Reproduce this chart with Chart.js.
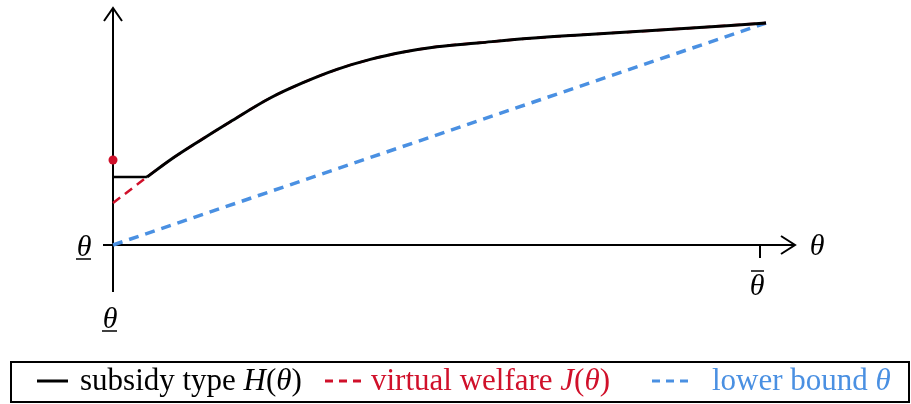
<!DOCTYPE html>
<html>
<head>
<meta charset="utf-8">
<script src="https://cdn.jsdelivr.net/npm/chart.js@4.4.0/dist/chart.umd.min.js"></script>
<style>
  html, body { margin: 0; padding: 0; background: #fff; }
  #wrap { width: 911px; height: 404px; position: relative; }
</style>
</head>
<body>
<div id="wrap"><canvas id="myChart" width="911" height="404"></canvas></div>
<script>
// type on the horizontal axis (theta_lower = 0, theta_upper = 1)
const curveX = [0.052, 0.087, 0.133, 0.179, 0.240, 0.291, 0.343, 0.394, 0.445, 0.496, 0.562, 0.639, 0.715, 0.838, 1.0];
const curveY = [0.306, 0.382, 0.470, 0.554, 0.661, 0.731, 0.791, 0.836, 0.869, 0.893, 0.911, 0.931, 0.946, 0.968, 1.0];

// H(theta) is flat until it meets J(theta)
const flatLevel = 0.306;
// J(theta) starts lower at theta_lower
const virtualStart = 0.189;
// value marked on the vertical axis
const dotValue = 0.383;

// lower bound theta (45 degree line)
const boundX = [0, 1];
const boundY = [0, 1];

const BLACK = "#000000";
const RED = "#d0102a";
const BLUE = "#4a90e2";

const toPoints = (xs, ys) => xs.map((x, i) => ({ x: x, y: ys[i] }));

const curveData = toPoints(curveX, curveY);
const flatData = [{ x: 0, y: flatLevel }, { x: curveX[0], y: flatLevel }];
const virtualData = [{ x: 0, y: virtualStart }].concat(curveData);
const boundData = toPoints(boundX, boundY);

const SERIF = "'Liberation Serif', 'DejaVu Serif', serif";

// draws a label made of [text, italic] parts, left aligned at x
function drawParts(ctx, parts, x, y, size, color) {
  ctx.fillStyle = color;
  ctx.textBaseline = "middle";
  ctx.textAlign = "left";
  parts.forEach(([t, it]) => {
    ctx.font = (it ? "italic " : "") + size + "px " + SERIF;
    ctx.fillText(t, x, y);
    x += ctx.measureText(t).width;
  });
  return x;
}

// theta with optional under/over bar, y is the baseline
function thetaLabel(ctx, x, y, mark) {
  ctx.font = "italic 30px " + SERIF;
  ctx.fillStyle = BLACK;
  ctx.textAlign = "center";
  ctx.textBaseline = "alphabetic";
  ctx.fillText("θ", x, y);
  ctx.lineWidth = 1.5;
  ctx.strokeStyle = BLACK;
  if (mark === "under") {
    ctx.beginPath(); ctx.moveTo(x - 8, y + 3); ctx.lineTo(x + 7, y + 3); ctx.stroke();
  } else if (mark === "over") {
    ctx.beginPath(); ctx.moveTo(x - 6, y - 24); ctx.lineTo(x + 7, y - 24); ctx.stroke();
  }
}

const axesPlugin = {
  id: "axes",
  beforeDatasetsDraw(chart) {
    const ctx = chart.ctx;
    const xs = chart.scales.x, ys = chart.scales.y;
    const x0 = xs.getPixelForValue(0), x1 = xs.getPixelForValue(1);
    const y0 = ys.getPixelForValue(0);
    ctx.save();
    ctx.strokeStyle = BLACK;
    ctx.lineWidth = 2;
    ctx.lineCap = "butt";
    // vertical axis with arrow
    ctx.beginPath();
    ctx.moveTo(x0, y0 + 47); ctx.lineTo(x0, 8);
    ctx.moveTo(x0 - 9, 21); ctx.lineTo(x0, 8); ctx.lineTo(x0 + 9, 21);
    // horizontal axis with arrow
    ctx.moveTo(x0 - 10, y0); ctx.lineTo(x1 + 29, y0);
    ctx.moveTo(x1 + 15, y0 - 9); ctx.lineTo(x1 + 29, y0); ctx.lineTo(x1 + 15, y0 + 9);
    // tick at theta_upper
    ctx.moveTo(x1 - 6, y0); ctx.lineTo(x1 - 6, y0 + 13);
    ctx.stroke();
    thetaLabel(ctx, x0 - 29, y0 + 11, "under");
    thetaLabel(ctx, x0 - 3, y0 + 83, "under");
    thetaLabel(ctx, x1 - 9, y0 + 50, "over");
    thetaLabel(ctx, x1 + 51, y0 + 10, null);
    ctx.restore();
  },
  afterDraw(chart) {
    const ctx = chart.ctx;
    ctx.save();
    // framed legend
    ctx.strokeStyle = BLACK;
    ctx.lineWidth = 2;
    ctx.strokeRect(11, 362, 898, 40);
    const cy = 382;
    const items = [
      { x: 37, w: 31, tx: 80, color: BLACK, dash: [], parts: [["subsidy type ", false], ["H", true], ["(", false], ["θ", true], [")", false]] },
      { x: 325, w: 36, tx: 371, color: RED, dash: [8, 6], parts: [["virtual welfare ", false], ["J", true], ["(", false], ["θ", true], [")", false]] },
      { x: 652, w: 36, tx: 712, color: BLUE, dash: [8, 6], parts: [["lower bound ", false], ["θ", true]] }
    ];
    items.forEach(it => {
      ctx.strokeStyle = it.color;
      ctx.lineWidth = 3;
      ctx.setLineDash(it.dash);
      ctx.beginPath(); ctx.moveTo(it.x, cy - 1); ctx.lineTo(it.x + it.w, cy - 1); ctx.stroke();
      ctx.setLineDash([]);
      drawParts(ctx, it.parts, it.tx, cy, 31, it.color);
    });
    ctx.restore();
  }
};

const ctx = document.getElementById("myChart").getContext("2d");
const myChart = new Chart(ctx, {
  type: "scatter",
  data: {
    datasets: [
      {
        label: "subsidy type H(θ)",
        data: curveData,
        showLine: true,
        borderColor: BLACK,
        borderWidth: 3,
        pointRadius: 0,
        cubicInterpolationMode: "monotone",
        clip: false,
        order: 1
      },
      {
        // flat part of H(theta) below the pooling point
        label: "subsidy type H(θ), flat",
        data: flatData,
        showLine: true,
        borderColor: BLACK,
        borderWidth: 2.5,
        pointRadius: 0,
        clip: false,
        order: 1
      },
      {
        label: "virtual welfare J(θ)",
        data: virtualData,
        showLine: true,
        borderColor: RED,
        borderWidth: 2.5,
        borderDash: [9, 6],
        pointRadius: 0,
        cubicInterpolationMode: "monotone",
        clip: false,
        order: 2
      },
      {
        label: "lower bound θ",
        data: boundData,
        showLine: true,
        borderColor: BLUE,
        borderWidth: 3.5,
        borderDash: [10, 7],
        pointRadius: 0,
        clip: false,
        order: 3
      },
      {
        label: "dot",
        data: [{ x: 0, y: dotValue }],
        showLine: false,
        pointRadius: 4.5,
        pointBackgroundColor: RED,
        pointBorderWidth: 0,
        clip: false,
        order: 0
      }
    ]
  },
  options: {
    responsive: false,
    animation: false,
    layout: { padding: { left: 113, right: 145, top: 23, bottom: 159 } },
    scales: {
      x: { type: "linear", min: 0, max: 1, display: false },
      y: { type: "linear", min: 0, max: 1, display: false }
    },
    plugins: {
      legend: { display: false },
      tooltip: { enabled: false }
    }
  },
  plugins: [axesPlugin]
});
</script>
</body>
</html>
